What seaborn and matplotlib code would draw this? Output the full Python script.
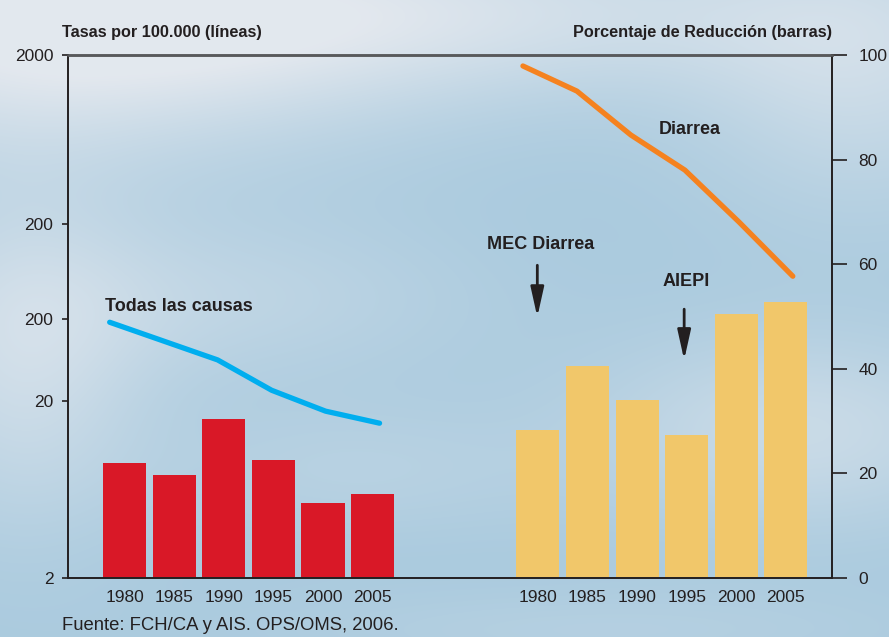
import numpy as np
import pandas as pd
import matplotlib
matplotlib.use("Agg")
import matplotlib.pyplot as plt
from matplotlib import font_manager as fm
import seaborn as sns

# datos (escala de barras 0-100)
years = ["1980", "1985", "1990", "1995", "2000", "2005"]
todas_barras = [22.0, 19.7, 30.4, 22.6, 14.3, 16.1]
diarrea_barras = [28.3, 40.5, 34.0, 27.3, 50.5, 52.8]
todas_linea = [48.9, 45.3, 41.7, 35.9, 31.9, 29.6]
diarrea_linea = [97.9, 93.1, 84.7, 78.0, 68.1, 57.7]
left_tick_vals = [0, 33.8, 49.5, 67.7, 100]
left_tick_labels = ["2", "20", "200", "200", "2000"]
right_ticks = [0, 20, 40, 60, 80, 100]

RED = "#d91827"
YELLOW = "#f1c76a"
BLUE = "#00aeef"
ORANGE = "#f5821f"
INK = "#231f20"

sns.set_style("ticks")
names = {f.name for f in fm.fontManager.ttflist}
cond = "Liberation Sans Narrow" if "Liberation Sans Narrow" in names else "Liberation Sans"
plt.rcParams["font.family"] = [cond, "DejaVu Sans"]

fig = plt.figure(figsize=(8.89, 6.37), dpi=100)

# fondo de cielo
H, W = 637, 889
yy, xx = np.mgrid[0:H, 0:W]
base = np.array([0.66, 0.79, 0.87])
cloud = np.array([0.89, 0.91, 0.935])
clouds = [
    (60, 40, 260, 90, 0.85),
    (450, 10, 350, 60, 0.6),
    (860, 80, 120, 100, 0.5),
    (20, 360, 90, 120, 0.6),
    (220, 300, 180, 60, 0.35),
    (800, 430, 150, 70, 0.55),
    (350, 470, 150, 50, 0.25),
    (600, 630, 250, 30, 0.2),
]
w = np.zeros((H, W))
for cx, cy, sx, sy, a in clouds:
    w += a * np.exp(-(((xx - cx) / sx) ** 2 + ((yy - cy) / sy) ** 2) / 2)
w = np.clip(w, 0, 1)[..., None]
img = base * (1 - w) + cloud * w
bg = fig.add_axes([0, 0, 1, 1], zorder=-1)
bg.imshow(img, aspect="auto")
bg.axis("off")

ax = fig.add_axes([68 / 889, 1 - 578 / 637, 764 / 889, 523 / 637])
ax.patch.set_alpha(0)

red_pos = np.arange(6)
yel_pos = np.arange(6) + 8.33
df = pd.DataFrame({
    "pos": np.r_[red_pos, yel_pos],
    "valor": todas_barras + diarrea_barras,
    "grupo": ["todas"] * 6 + ["diarrea"] * 6,
})
sns.barplot(data=df, x="pos", y="valor", hue="grupo",
            palette={"todas": RED, "diarrea": YELLOW},
            native_scale=True, width=0.867, saturation=1, dodge=False,
            errorbar=None, legend=False, ax=ax, zorder=2, linewidth=0)

step = 1.088
sns.lineplot(x=-0.3 + step * np.arange(6), y=todas_linea, color=BLUE,
             linewidth=3.8, ax=ax, zorder=3)
sns.lineplot(x=8.03 + step * np.arange(6), y=diarrea_linea, color=ORANGE,
             linewidth=3.8, ax=ax, zorder=3)

ax.set_xlim(-1.14, 14.26)
ax.set_ylim(0, 100)
ax.set_xlabel("")
ax.set_ylabel("")
ax.set_xticks(np.r_[red_pos, yel_pos])
ax.set_xticklabels(years * 2)
ax.tick_params(axis="x", length=0, pad=9, labelsize=12.5, labelcolor=INK)
ax.set_yticks(left_tick_vals)
ax.set_yticklabels(left_tick_labels)
ax.tick_params(axis="y", length=4.5, width=1.2, pad=6, labelsize=12.5,
               color=INK, labelcolor=INK)

ax2 = ax.twinx()
ax2.set_ylim(0, 100)
ax2.set_yticks(right_ticks)
ax2.tick_params(axis="y", length=11, width=1.2, pad=8, labelsize=12.5,
                color=INK, labelcolor=INK)

for a in (ax, ax2):
    for side in ["left", "right", "bottom"]:
        a.spines[side].set_visible(True)
        a.spines[side].set_color(INK)
        a.spines[side].set_linewidth(1.2)
    a.spines["top"].set_visible(True)
    a.spines["top"].set_color("#58595b")
    a.spines["top"].set_linewidth(1.8)

# etiquetas
bold = dict(fontweight="bold", fontsize=13, color=INK)
ax.text(-0.39, 52.0, "Todas las causas", ha="left", va="center", **bold)
ax.text(10.77, 85.7, "Diarrea", ha="left", va="center", **bold)
ax.text(7.31, 63.7, "MEC Diarrea", ha="left", va="center", **bold)
ax.text(10.84, 56.6, "AIEPI", ha="left", va="center", **bold)

arrow = dict(arrowstyle="-|>,head_length=0.9,head_width=0.2", lw=2,
             color=INK, mutation_scale=20, shrinkA=0, shrinkB=0)
ax.annotate("", xy=(8.32, 49.9), xytext=(8.32, 59.8), arrowprops=arrow)
ax.annotate("", xy=(11.28, 41.7), xytext=(11.28, 51.4), arrowprops=arrow)

title = dict(fontweight="bold", fontsize=11.7, color=INK)
fig.text(62 / 889, 1 - 32 / 637, "Tasas por 100.000 (líneas)",
         ha="left", va="center", **title)
fig.text(832 / 889, 1 - 32 / 637, "Porcentaje de Reducción (barras)",
         ha="right", va="center", **title)
fig.text(62 / 889, 1 - 625 / 637, "Fuente: FCH/CA y AIS. OPS/OMS, 2006.",
         ha="left", va="center", fontsize=13.3, color=INK)

fig.savefig("out.png", dpi=100)
